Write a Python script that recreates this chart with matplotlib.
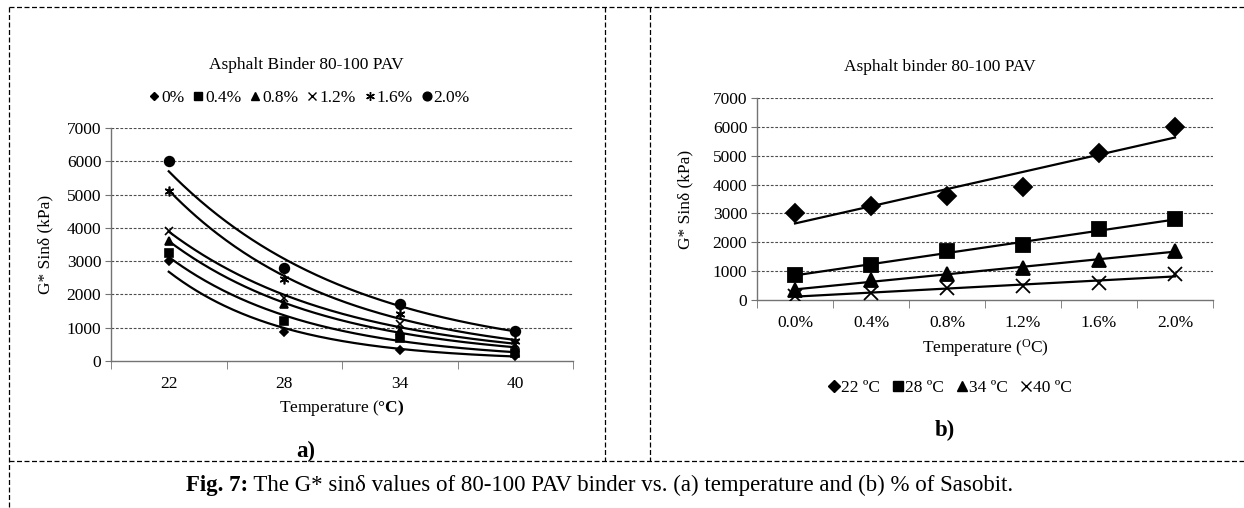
import numpy as np
import matplotlib
matplotlib.use('Agg')
import matplotlib.pyplot as plt
from matplotlib.lines import Line2D

plt.rcParams['font.family'] = ['Liberation Serif', 'DejaVu Serif']
plt.rcParams['mathtext.fontset'] = 'custom'
plt.rcParams['mathtext.rm'] = 'Liberation Serif'
plt.rcParams['mathtext.bf'] = 'Liberation Serif:bold'

# G* sin(delta) in kPa, one list per test temperature, across Sasobit content
temps = [22, 28, 34, 40]
sasobit = ['0.0%', '0.4%', '0.8%', '1.2%', '1.6%', '2.0%']
g_22 = [3000, 3250, 3600, 3900, 5100, 6000]
g_28 = [880, 1200, 1700, 1900, 2450, 2800]
g_34 = [330, 700, 900, 1100, 1400, 1700]
g_40 = [150, 250, 400, 500, 600, 900]

leg_a = ['0%', '0.4%', '0.8%', '1.2%', '1.6%', '2.0%']
leg_b = ['22 ºC', '28 ºC', '34 ºC', '40 ºC']

G = np.array([g_22, g_28, g_34, g_40])   # rows: temperature, cols: sasobit

fs = 12.5
W, H = 1244, 508
fig = plt.figure(figsize=(W/100, H/100), dpi=100)

def fx(px):
    return px / W

def fy(py):
    return 1 - py / H

def style(ax, n):
    ax.set_xlim(0.5, n + 0.5)
    ax.set_ylim(0, 7000)
    ax.set_yticks(range(0, 7001, 1000))
    ax.set_xticks(np.arange(1, n + 1))
    ax.set_xticks(np.arange(0.5, n + 1), minor=True)
    ax.tick_params(axis='x', which='major', length=0, labelsize=fs, pad=11)
    ax.tick_params(axis='x', which='minor', length=6, color='0.45', direction='out')
    ax.tick_params(axis='y', length=4, color='0.45', labelsize=fs, pad=3)
    for s in ['top', 'right']:
        ax.spines[s].set_visible(False)
    for s in ['left', 'bottom']:
        ax.spines[s].set_color('0.45')
        ax.spines[s].set_linewidth(1.0)
    for v in range(1000, 7001, 1000):
        ax.axhline(v, color='0.3', lw=0.8, dashes=(2.5, 1.5), zorder=0)
    ax.set_ylabel('G* Sinδ (kPa)', fontsize=fs)

# ---- (a) vs temperature
axa = fig.add_axes([fx(111), fy(361), fx(573 - 111), (361 - 128) / H])
style(axa, len(temps))
xa = np.arange(1, len(temps) + 1)
mk_a = [('D', 4.5), ('s', 6), ('^', 6), ('x', 6), ((6, 2, 0), 7), ('o', 7)]
xs = np.linspace(1, len(temps), 200)
handles = []
for j in range(len(sasobit)):
    y = G[:, j]
    m, ms = mk_a[j]
    axa.plot(xa, y, ls='none', marker=m, ms=ms, color='black', mew=1.2, zorder=3)
    b, a = np.polyfit(xa, np.log(y), 1)   # exponential trendline
    axa.plot(xs, np.exp(a + b * xs), color='black', lw=1.6, zorder=2)
    handles.append(Line2D([], [], ls='none', marker=m, ms=ms * 0.9, color='black', mew=1.0))
axa.set_xticklabels([str(t) for t in temps])
axa.set_xlabel(r'Temperature ($\mathbf{°C)}$', fontsize=fs, labelpad=4)
axa.yaxis.set_label_coords(-0.125, 0.5)
fig.text(fx(306), fy(65), 'Asphalt Binder 80-100 PAV', ha='center', va='center', fontsize=fs)
fig.legend(handles, leg_a, loc='center', bbox_to_anchor=(fx(309), fy(98)), ncol=6,
           frameon=False, fontsize=fs, handlelength=0.7, handletextpad=0.05,
           columnspacing=0.45, borderaxespad=0)
fig.text(fx(306), fy(451), 'a)', ha='center', va='center', fontsize=16.5, fontweight='bold')

# ---- (b) vs sasobit
axb = fig.add_axes([fx(757), fy(300), fx(1213 - 757), (300 - 98) / H])
style(axb, len(sasobit))
xb = np.arange(1, len(sasobit) + 1)
mk_b = [('D', 9), ('s', 10), ('^', 10), ('x', 10)]
handles = []
for i in range(len(temps)):
    y = G[i, :]
    m, ms = mk_b[i]
    axb.plot(xb, y, ls='none', marker=m, ms=ms, color='black', mew=1.3, zorder=3)
    b, a = np.polyfit(xb, y, 1)   # linear trendline
    axb.plot(xb, a + b * xb, color='black', lw=1.6, zorder=2)
    handles.append(Line2D([], [], ls='none', marker=m, ms=ms * 0.72, color='black', mew=1.0))
axb.set_xticklabels(sasobit)
axb.set_xlabel(r'Temperature ($\mathregular{^{O}}$C)', fontsize=fs, labelpad=4)
axb.yaxis.set_label_coords(-0.14, 0.5)
fig.text(fx(940), fy(67), 'Asphalt binder 80-100 PAV', ha='center', va='center', fontsize=fs)
fig.legend(handles, leg_b, loc='center', bbox_to_anchor=(fx(950), fy(388)), ncol=4,
           frameon=False, fontsize=fs, handlelength=0.7, handletextpad=0.05,
           columnspacing=0.7, borderaxespad=0)
fig.text(fx(945), fy(430), 'b)', ha='center', va='center', fontsize=16.5, fontweight='bold')

# ---- caption: bold lead-in followed by normal text, centred as a whole
cap_fs = 16.5
t1 = fig.text(0, fy(485), 'Fig. 7:', ha='left', va='center', fontsize=cap_fs, fontweight='bold')
t2 = fig.text(0, fy(485), ' The G* sinδ values of 80-100 PAV binder vs. (a) temperature and (b) % of Sasobit.',
              ha='left', va='center', fontsize=cap_fs)
r = fig.canvas.get_renderer()
w1 = t1.get_window_extent(r).width
w2 = t2.get_window_extent(r).width
x0 = 600 - (w1 + w2) / 2
t1.set_x(fx(x0))
t2.set_x(fx(x0 + w1))

# ---- dashed frame
kw = dict(color='black', lw=0.9, dashes=(4, 2), transform=fig.transFigure)
fig.add_artist(Line2D([fx(9), 1], [fy(7), fy(7)], **kw))
fig.add_artist(Line2D([fx(9), fx(9)], [fy(7), 0], **kw))
fig.add_artist(Line2D([fx(9), 1], [fy(461), fy(461)], **kw))
fig.add_artist(Line2D([fx(605), fx(605)], [fy(7), fy(461)], **kw))
fig.add_artist(Line2D([fx(650), fx(650)], [fy(7), fy(461)], **kw))

fig.savefig('out.png', dpi=100)
